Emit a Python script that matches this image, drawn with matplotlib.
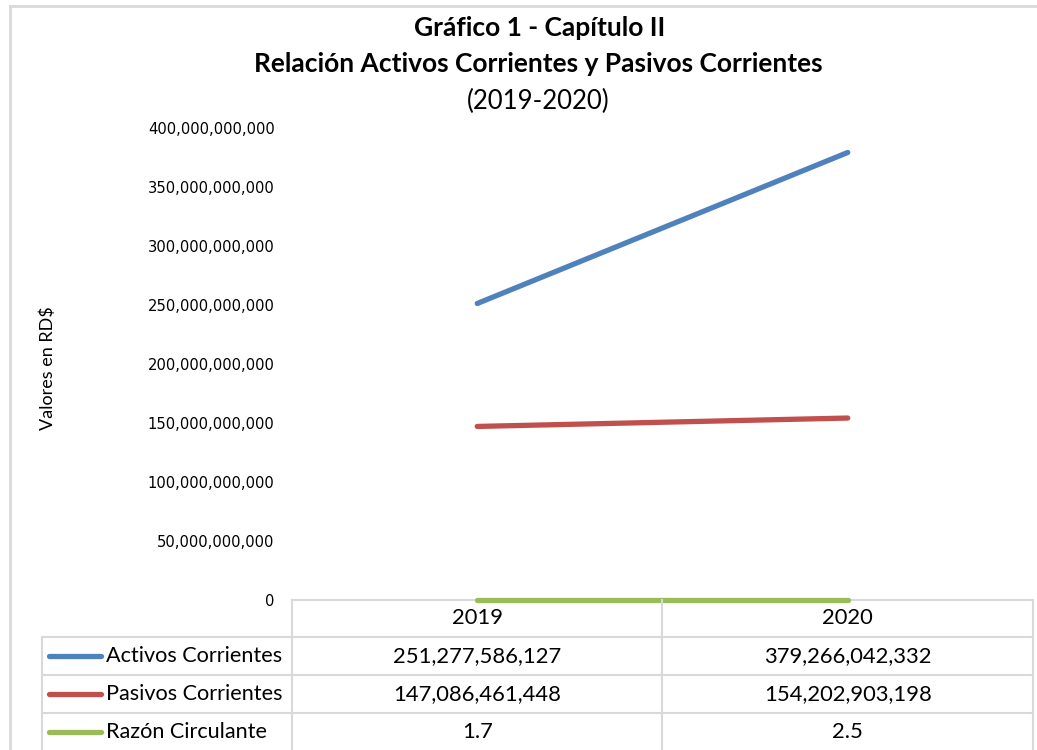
import numpy as np
import matplotlib.pyplot as plt
from matplotlib.lines import Line2D
import matplotlib.transforms as mtransforms
from matplotlib.ticker import FuncFormatter

# Data
years = ["2019", "2020"]
activos = [251277586127, 379266042332]
pasivos = [147086461448, 154202903198]
razon = [1.7, 2.5]
series_names = ["Activos Corrientes", "Pasivos Corrientes", "Razón Circulante"]
series_vals = [activos, pasivos, razon]
colors = ["#4F81BD", "#C0504D", "#9BBB59"]
table_text = [["251,277,586,127", "379,266,042,332"],
              ["147,086,461,448", "154,202,903,198"],
              ["1.7", "2.5"]]

W, H = 1037, 750
grid_col = "#D9D9D9"
tfont = "Lato"

def fx(px):
    return px / W

def fy(py):
    return 1 - py / H

fig = plt.figure(figsize=(W / 100, H / 100), dpi=100)
ax = fig.add_axes([fx(292), fy(600), fx(1033) - fx(292), fy(128) - fy(600)])

x = np.arange(len(years))
for vals, c in zip(series_vals, colors):
    ax.plot(x, vals, color=c, lw=3.8, solid_capstyle="round", clip_on=False, zorder=3)

ax.set_xlim(-0.5, 1.5)
ax.set_ylim(0, 4e11)
ax.set_yticks(np.arange(0, 4.01e11, 5e10))
ax.yaxis.set_major_formatter(FuncFormatter(lambda v, p: f"{v:,.0f}"))
ax.tick_params(axis="y", length=0, pad=12.5, labelsize=10.6, colors="#000000")
ax.set_xticks([])
for s in ["top", "right", "left"]:
    ax.spines[s].set_visible(False)
ax.spines["bottom"].set_color(grid_col)
ax.spines["bottom"].set_linewidth(1.5)

# Axis title
fig.text(fx(48), fy(368), "Valores en RD$", rotation=90, ha="center", va="center",
         fontsize=13, family=tfont)

# Title
fig.text(fx(540), fy(28), "Gráfico 1 - Capítulo II", ha="center", va="center",
         fontsize=19, fontweight="bold", family=tfont)
fig.text(fx(538), fy(64), "Relación Activos Corrientes y Pasivos Corrientes", ha="center",
         va="center", fontsize=19, fontweight="bold", family=tfont)
fig.text(fx(538), fy(101), "(2019-2020)", ha="center", va="center",
         fontsize=18.5, family=tfont)

# Chart border
fig.add_artist(Line2D([fx(10), fx(10)], [fy(6), 0], color=grid_col, lw=2))
fig.add_artist(Line2D([fx(10), 1], [fy(6), fy(6)], color=grid_col, lw=2))

# Data table
rows_y = [600, 637, 675, 713, 750]
blend = mtransforms.blended_transform_factory(ax.transData, fig.transFigure)
for yy in rows_y[1:4]:
    fig.add_artist(Line2D([fx(42), fx(1033)], [fy(yy), fy(yy)], color=grid_col, lw=1.5))
for xx in [292, 662, 1033]:
    fig.add_artist(Line2D([fx(xx), fx(xx)], [fy(600), 0], color=grid_col, lw=1.5))
fig.add_artist(Line2D([fx(42), fx(42)], [fy(637), 0], color=grid_col, lw=1.5))

for i, yr in enumerate(years):
    fig.text(x[i], fy((rows_y[0] + rows_y[1]) / 2), yr, transform=blend, ha="center",
             va="center", fontsize=15.8, family=tfont)
for r, name in enumerate(series_names):
    yc = fy((rows_y[r + 1] + rows_y[r + 2]) / 2)
    fig.add_artist(Line2D([fx(49), fx(101)], [yc, yc], color=colors[r], lw=3.8,
                          solid_capstyle="round"))
    fig.text(fx(106), yc, name, ha="left", va="center", fontsize=15.6, family=tfont)
    for i in range(len(years)):
        fig.text(x[i], yc, table_text[r][i], transform=blend, ha="center", va="center",
                 fontsize=15.8, family=tfont)

fig.savefig("out.png", dpi=100)
